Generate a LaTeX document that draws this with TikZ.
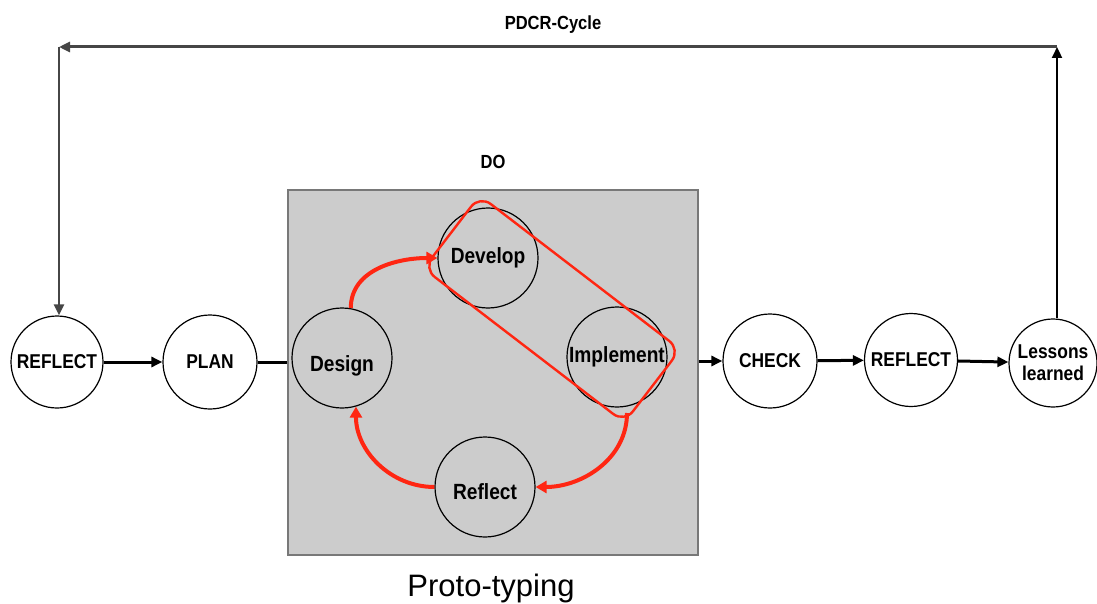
\documentclass[tikz,border=0pt]{standalone}
\usepackage{fontspec}
\setmainfont{Liberation Sans}
\newfontfamily\narrowfont{Liberation Sans}[FakeStretch=0.87]
\usetikzlibrary{arrows.meta}
\definecolor{loopred}{RGB}{255,38,18}
\definecolor{boxgray}{RGB}{204,204,204}
\definecolor{boxedge}{RGB}{120,120,120}
\definecolor{topline}{RGB}{70,70,70}
\tikzset{
  stage/.style={circle, draw=black, line width=1.2pt, fill=white, minimum size=#1, inner sep=0pt,
    font=\narrowfont\bfseries\fontsize{20}{22}\selectfont, align=center},
  substage/.style={circle, draw=black, line width=1.2pt, minimum size=100pt, inner sep=0pt,
    font=\narrowfont\bfseries\fontsize{22}{24}\selectfont},
  flow/.style={line width=3pt, -{Triangle[length=11pt,width=10pt]}},
  plainflow/.style={line width=3pt},
  loop/.style={draw=loopred, line width=4pt, -{Triangle[length=11pt,width=12pt]}},
  feedback/.style={line width=2.2pt, -{Triangle[length=11pt,width=10pt]}},
  caption/.style={font=\narrowfont\bfseries\fontsize{19}{21}\selectfont}
}
\begin{document}
\begin{tikzpicture}[x=1pt,y=-1pt]
\useasboundingbox (0,0) rectangle (1097,604);

% prototyping block
\node[draw=boxedge, fill=boxgray, line width=1.8pt, minimum width=410pt, minimum height=365pt,
      inner sep=0pt] (proto) at (493,372.5) {};
\node[caption] (dolabel) at (493,162) {DO};
\node[font=\fontsize{31}{33}\selectfont] (protolabel) at (491,588) {Proto-typing};

% inner cycle
\node[substage, text height=32pt] (des) at (342,358) {Design};
\node[substage] (dev) at (488,258) {Develop};
\node[substage] (imp) at (617,357) {Implement};
\node[substage, text height=26pt] (rfl) at (485,487) {Reflect};
\node[draw=loopred, line width=2.4pt, rounded corners=14pt, minimum width=253pt,
      minimum height=92pt, rotate=-37.5, inner sep=0pt] (grp) at (552,309) {};
\coordinate (grpout) at (627,413);

\draw[loop] (des.80) to[out=90,in=180] (dev.west);
\draw[loop] (grpout) to[out=-90,in=0] (rfl.east);
\draw[loop] (rfl.west) to[out=180,in=-90] (des.-74);

% main chain
\node[stage=92pt] (ref1) at (57,362) {REFLECT};
\node[stage=94pt] (plan) at (210,362) {PLAN};
\node[stage=94pt] (chk) at (770,361) {CHECK};
\node[stage=93pt] (ref2) at (911,360) {REFLECT};
\node[stage=88pt] (les) at (1053,363) {Lessons\\learned};

\draw[flow] (ref1) -- (plan);
\draw[plainflow] (plan.east) -- (proto.west |- plan.east);
\draw[flow] (proto.east |- chk.west) -- (chk.west);
\draw[flow] (chk) -- (ref2);
\draw[flow] (ref2) -- (les);

% PDCR feedback loop
\coordinate (tr) at (1057,47);
\coordinate (tl) at (59,47);
\draw[feedback] (tr |- les.north) -- (tr);
\draw[feedback, draw=topline, line width=3pt] (tr) -- (tl);
\draw[feedback, draw=topline] (tl) -- (tl |- ref1.north);
\node[caption] (cyclelabel) at (553,25) {PDCR-Cycle};
\end{tikzpicture}
\end{document}
